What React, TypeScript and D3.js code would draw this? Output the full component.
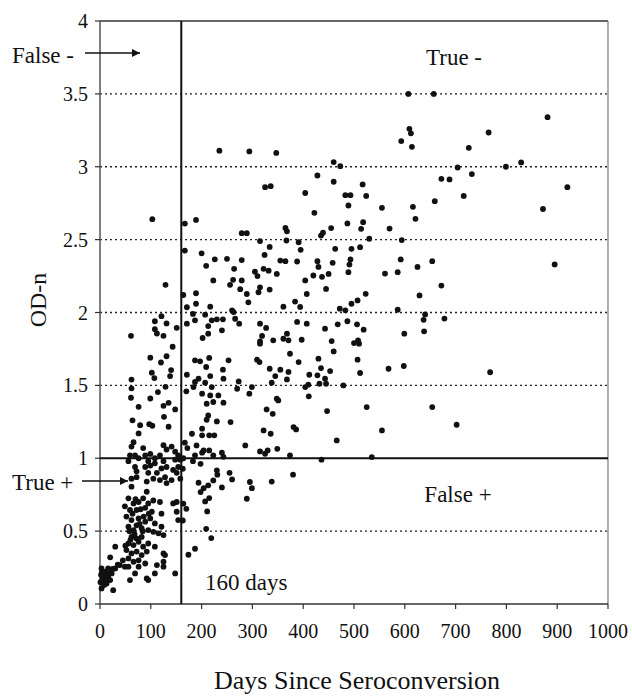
import React from "react";
import * as d3 from "d3";

// [days since seroconversion, OD-n]
const earlyCluster: [number, number][] = [
  [66,1.11],[62,1.08],[85,1.07],[59,1.02],[69,1.02],[76,1.0],[89,1.02],[99,1.03],[108,1.0],[118,1.02],[125,1.09],[131,1.06],[141,1.08],[148,1.045],[154,1.02],[158,0.99],[148,0.99],[56,0.98],[95,0.98],[125,0.98],
  [69,0.94],[89,0.94],[99,0.95],[108,0.965],[121,0.93],[131,0.94],[144,0.92],[154,0.94],[62,0.86],[72,0.87],[95,0.9],[92,0.84],[112,0.9],[118,0.85],[128,0.87],[131,0.83],[141,0.85],[151,0.9],[158,0.86],[62,0.805],[72,0.91],[105,0.86],
  [92,0.77],[56,0.725],[66,0.69],[76,0.70],[85,0.725],[95,0.69],[105,0.71],[118,0.70],[144,0.69],[151,0.70],[49,0.67],[59,0.645],[72,0.645],[89,0.66],[102,0.633],[121,0.62],[151,0.633],[52,0.60],[62,0.576],[76,0.587],[89,0.565],[99,0.587],[108,0.553],[121,0.53],[154,0.576],[56,0.53],[66,0.507],[72,0.54],[82,0.52],[95,0.507],[105,0.495],[115,0.485],[125,0.473],
  [62,0.46],[72,0.45],[82,0.46],[56,0.415],[66,0.404],[76,0.427],[85,0.393],[95,0.415],[108,0.393],[52,0.37],[62,0.347],[72,0.36],[82,0.336],[92,0.36],[125,0.347],[30,0.393],[20,0.32],[56,0.313],[66,0.29],[76,0.30],[89,0.278],[112,0.267],[125,0.256],[56,0.256],[76,0.256],[30,0.244],[39,0.267],[49,0.256],[3,0.244],[10,0.22],[16,0.244],[69,0.21],[108,0.21],[148,0.21],[2,0.2],[7,0.187],[16,0.187],[23,0.21],[1,0.15],[13,0.14],[20,0.164],[3,0.107],[26,0.095],[59,0.164],[92,0.175],[95,0.164],[125,0.29],[128,0.336],
  [5,0.17],[8,0.13],[12,0.2],[18,0.22],[4,0.22],[10,0.16],[25,0.24],[35,0.27],[45,0.3],[50,0.4],[60,0.44],[68,0.48],[78,0.55],[58,0.5],[64,0.62],[80,0.65],[86,0.6],[70,0.72],[96,0.62],[84,0.5],
];

const earlyHigh: [number, number][] = [
  [121,1.975],[108,1.94],[131,1.925],[151,1.895],[108,1.885],[112,1.856],[125,1.84],[61,1.84],[143,1.765],[99,1.69],[131,1.70],[120,1.657],[140,1.605],[102,1.587],[107,1.55],[138,1.564],[62,1.54],[62,1.48],[129,1.49],[114,1.454],[61,1.415],[99,1.41],[76,1.353],[125,1.36],[135,1.38],[148,1.335],[126,1.284],[64,1.26],[79,1.227],[97,1.234],[103,1.223],[135,1.216],[76,1.17],
  [103,2.64],[129,2.19],[164,2.12],
];

const midUpper: [number, number][] = [
  [235,3.11],[294,3.105],[347,3.095],[325,2.86],[336,2.867],[404,2.82],[189,2.635],[167,2.61],[279,2.544],[289,2.544],[365,2.58],[368,2.557],[367,2.494],[315,2.49],[391,2.482],[334,2.45],[395,2.43],[167,2.425],[200,2.406],[324,2.395],[226,2.365],[250,2.368],[279,2.36],[355,2.356],[365,2.352],[388,2.35],[209,2.32],[264,2.30],[305,2.28],[322,2.30],[332,2.287],[310,2.25],[348,2.265],[223,2.22],[262,2.224],[279,2.22],[256,2.19],[404,2.22],[276,2.16],[315,2.173],[334,2.157],[289,2.127],[312,2.139],[189,2.132],[407,2.127],[292,2.07],[189,2.06],[217,2.04],[171,2.036],[361,2.04],[384,2.075],
];

const midLower: [number, number][] = [
  [394,2.038],[183,1.99],[207,1.985],[260,2.015],[263,2.003],[171,1.923],[187,1.946],[220,1.946],[230,1.953],[242,1.953],[266,1.957],[274,1.923],[213,1.907],[315,1.923],[327,1.894],[388,1.935],[407,1.923],[240,1.878],[213,1.855],[202,1.825],[319,1.839],[315,1.802],[341,1.809],[361,1.82],[368,1.855],[371,1.809],[374,1.717],[315,1.786],[187,1.672],[197,1.665],[215,1.688],[253,1.672],[309,1.676],[314,1.66],[391,1.66],[209,1.626],[242,1.608],[334,1.614],[355,1.608],[371,1.592],[171,1.573],[194,1.546],[217,1.564],[243,1.546],[345,1.564],[368,1.541],[187,1.523],[207,1.518],[273,1.527],[338,1.518],[412,1.573],[184,1.488],[170,1.459],[220,1.488],[270,1.477],[299,1.488],[404,1.488],[411,1.425],[201,1.443],[217,1.431],[233,1.431],[294,1.443],[210,1.374],[223,1.386],[243,1.381],[348,1.409],[351,1.397],[328,1.335],[340,1.305],[213,1.294],[210,1.264],[230,1.253],[257,1.248],[381,1.214],[386,1.198],[201,1.203],[181,1.168],[201,1.157],[215,1.157],[225,1.157],[322,1.191],[336,1.168],[167,1.107],[172,1.07],[190,1.088],[204,1.054],[201,1.038],[215,1.054],[240,1.038],[286,1.088],[315,1.047],[330,1.054],[325,1.031],[349,1.065],[374,1.02],[187,1.02],[223,1.02],[243,1.01],[164,1.0],[183,0.98],[198,0.962],[163,0.928],[230,0.917],[255,0.9],[231,0.887],[260,0.855],[223,0.848],[194,0.832],[213,0.814],[295,0.837],[299,0.795],[338,0.84],[380,0.887],[240,0.80],[204,0.795],[198,0.768],[215,0.727],[289,0.722],[207,0.704],[164,0.688],[170,0.653],[211,0.635],[163,0.573],[209,0.516],[219,0.452],[187,0.379],[174,0.338],
];

const lateUpper: [number, number][] = [
  [609,3.26],[612,3.229],[593,3.176],[614,3.137],[460,3.032],[473,3.004],[704,2.995],[428,2.94],[460,2.897],[672,2.917],[688,2.913],[517,2.879],[483,2.805],[493,2.805],[524,2.8],[489,2.734],[555,2.718],[616,2.725],[659,2.764],[422,2.684],[621,2.643],[487,2.611],[518,2.62],[514,2.574],[570,2.576],[455,2.579],[439,2.547],[435,2.528],[530,2.506],[594,2.497],[463,2.437],[495,2.437],[512,2.448],[592,2.364],[654,2.352],[428,2.352],[458,2.341],[493,2.364],[491,2.329],[430,2.313],[625,2.313],[489,2.277],[450,2.265],[420,2.254],[437,2.245],[561,2.267],[586,2.277],[445,2.162],[672,2.185],[523,2.128],[629,2.117],
];

const lateLower: [number, number][] = [
  [507,2.083],[495,2.06],[472,2.026],[483,2.015],[586,2.019],[640,1.987],[637,1.95],[678,1.958],[638,1.871],[443,1.889],[468,1.919],[487,1.94],[506,1.919],[519,1.882],[599,1.855],[397,1.813],[456,1.804],[500,1.79],[510,1.786],[508,1.809],[460,1.733],[430,1.683],[507,1.676],[435,1.619],[453,1.598],[568,1.614],[598,1.633],[428,1.569],[443,1.546],[445,1.511],[432,1.511],[512,1.585],[410,1.505],[479,1.5],[447,1.324],[525,1.351],[654,1.351],[702,1.23],[555,1.191],[466,1.122],[535,1.008],[436,0.99],
];

const veryLate: [number, number][] = [
  [607,3.50],[657,3.50],[881,3.34],[765,3.235],[726,3.13],[799,3.0],[829,3.03],[732,2.95],[920,2.86],[716,2.80],[872,2.71],[895,2.33],[768,1.59],
];

const xTicks = [0, 100, 200, 300, 400, 500, 600, 700, 800, 900, 1000];
const yTicks = [0, 0.5, 1, 1.5, 2, 2.5, 3, 3.5, 4];
const dottedGrid = [0.5, 1.5, 2, 2.5, 3, 3.5];
const cutoffDays = 160;
const cutoffOD = 1;

const FONT = "'Liberation Serif', 'Times New Roman', serif";

export default function App() {
  const W = 632, H = 698;
  const x = d3.scaleLinear().domain([0, 1000]).range([100, 608]);
  const y = d3.scaleLinear().domain([0, 4]).range([604, 21]);
  const all = [...earlyCluster, ...earlyHigh, ...midUpper, ...midLower, ...lateUpper, ...lateLower, ...veryLate];
  const ink = "#111";

  return (
    <svg width={W} height={H} style={{ position: "absolute", left: 0, top: 0, background: "#fff" }} fontFamily={FONT}>
      <defs>
        <marker id="ah" viewBox="0 0 10 10" refX="10" refY="5" markerWidth="10" markerHeight="8" markerUnits="userSpaceOnUse" orient="auto">
          <path d="M0,0 L10,5 L0,10 z" fill={ink} />
        </marker>
      </defs>
      <rect x={0} y={0} width={W} height={H} fill="#fff" />
      {dottedGrid.map((v) => (
        <line key={v} x1={x(0)} x2={x(1000)} y1={y(v)} y2={y(v)} stroke="#222" strokeWidth={1.3} strokeDasharray="2,3" />
      ))}
      <line x1={x(0)} x2={x(1000)} y1={y(4)} y2={y(4)} stroke="#333" strokeWidth={1.5} />
      <line x1={x(1000)} x2={x(1000)} y1={y(4)} y2={y(0)} stroke="#777" strokeWidth={1.2} />
      <line x1={x(0)} x2={x(0)} y1={y(4)} y2={y(0)} stroke="#555" strokeWidth={1.5} />
      <line x1={x(0)} x2={x(1000)} y1={y(0)} y2={y(0)} stroke="#333" strokeWidth={1.5} />
      <line x1={x(0)} x2={x(1000)} y1={y(cutoffOD)} y2={y(cutoffOD)} stroke={ink} strokeWidth={2} />
      <line x1={x(cutoffDays)} x2={x(cutoffDays)} y1={y(4)} y2={y(0)} stroke={ink} strokeWidth={2} />
      {yTicks.map((v) => (
        <g key={v}>
          <line x1={x(0) - 5} x2={x(0)} y1={y(v)} y2={y(v)} stroke="#333" strokeWidth={1.2} />
          <text x={88} y={y(v)} dy="0.35em" textAnchor="end" fontSize={20} fill={ink}>{v}</text>
        </g>
      ))}
      {xTicks.map((v) => (
        <g key={v}>
          <line x1={x(v)} x2={x(v)} y1={y(0)} y2={y(0) + 5} stroke="#333" strokeWidth={1.2} />
          <text x={x(v)} y={638} textAnchor="middle" fontSize={20} fill={ink}>{v}</text>
        </g>
      ))}
      {all.map(([d, v], i) => (
        <circle key={i} cx={x(d)} cy={y(v)} r={2.9} fill={ink} />
      ))}
      <text x={12} y={63} fontSize={23} fill={ink}>False -</text>
      <line x1={85} x2={140} y1={53} y2={53} stroke={ink} strokeWidth={1.3} markerEnd="url(#ah)" />
      <text x={454} y={65} textAnchor="middle" fontSize={23} fill={ink}>True -</text>
      <text x={12} y={490} fontSize={23} fill={ink}>True +</text>
      <line x1={82} x2={128} y1={481} y2={481} stroke={ink} strokeWidth={1.3} markerEnd="url(#ah)" />
      <text x={458} y={502} textAnchor="middle" fontSize={23} fill={ink}>False +</text>
      <text x={205} y={590} fontSize={23} fill={ink}>160 days</text>
      <text x={357} y={689} textAnchor="middle" fontSize={26} fill={ink}>Days Since Seroconversion</text>
      <text transform={`translate(46,300) rotate(-90)`} textAnchor="middle" fontSize={24} fill={ink}>OD-n</text>
    </svg>
  );
}
